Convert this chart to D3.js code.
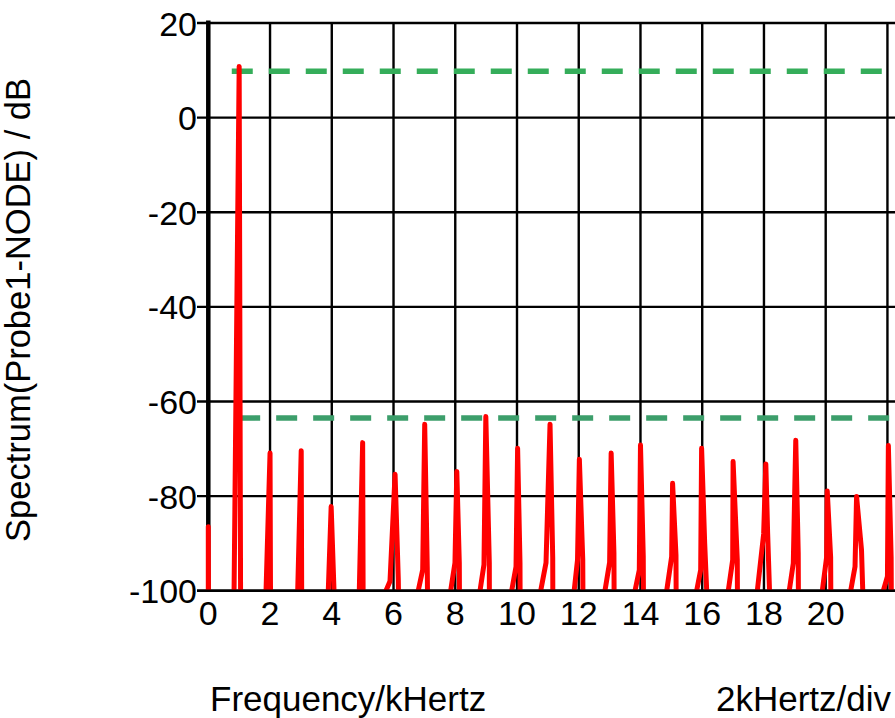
<!DOCTYPE html>
<html>
<head>
<meta charset="utf-8">
<script src="https://cdn.jsdelivr.net/npm/d3@7"></script>
<style>
  html, body { margin: 0; padding: 0; background: #fff; overflow: hidden; }
  svg { display: block; }
  text { font-family: "Liberation Sans", Arial, sans-serif; fill: #000; }
</style>
</head>
<body>
<svg id="chart" width="895" height="718"></svg>
<script>
// Harmonic spikes of the probe spectrum (frequency in kHz, level in dB)
const spikeKHz   = [0, 1.0, 2.0, 3.01, 3.98, 5.0, 6.05, 7.01, 8.05, 8.99, 10.02, 11.07, 12.02, 13.05, 14.0, 15.04, 15.98, 17.0, 18.06, 19.03, 20.05, 21.0, 22.03];
const peakDb     = [-86.5, 10.8, -70.9, -70.4, -82.2, -68.7, -75.4, -64.8, -74.8, -63.2, -69.9, -64.8, -72.2, -70.9, -69.2, -77.3, -69.9, -72.7, -73.2, -68.2, -78.9, -80.1, -69.3];
// where each spike leaves / returns to the -100 dB floor
const footLeftKHz  = [0, 0.835, 1.87, 2.896, 3.887, 4.891, 5.755, 6.80, 7.852, 8.802, 9.828, 10.768, 11.852, 12.85, 13.823, 14.85, 15.82, 16.845, 17.785, 18.82, 19.89, 20.81, 21.866];
const footRightKHz = [0.005, 1.045, 2.015, 3.025, 4.072, 5.015, 6.16, 7.10, 8.135, 9.105, 10.10, 11.16, 12.135, 13.145, 14.095, 15.155, 16.145, 17.14, 18.18, 19.115, 20.165, 21.2, 22.125];
// intermediate bins on either side of each peak (null where the flank is straight)
const shoulderLeftKHz  = [null, null, null, null, null, null, 5.886, 6.945, 7.99, 8.93, 9.968, 10.94, 11.96, 13.0, 13.962, 15.01, 15.95, 16.987, 17.99, 18.95, 20.03, 20.95, 22.0];
const shoulderLeftDb   = [null, null, null, null, null, null, -98, -95.6, -94.1, -94.5, -94.9, -94.1, -93.5, -94, -95.6, -92.8, -95.6, -93.5, -88, -94.2, -92.9, -94.9, -97];
const shoulderRightKHz = [null, null, null, null, null, null, 6.155, 7.093, 8.131, 9.103, 10.097, 11.157, 12.13, 13.14, 14.09, 15.15, 16.08, 17.136, 18.12, 19.11, 20.16, 21.16, 22.12];
const shoulderRightDb  = [null, null, null, null, null, null, -97.7, -95, -94.1, -94.2, -94.2, -93, -93.5, -92, -92.7, -92.5, -90, -93.5, -88, -92, -92.9, -91.4, -93];

// reference levels (dashed markers)
const markerLevels = [
  { db: 9.8,   fromKHz: 0.76, color: "#35ad5a" },
  { db: -63.5, fromKHz: 1.0,  color: "#3c9e6b" }
];

// axis ticks
const xTickValues = [0, 2, 4, 6, 8, 10, 12, 14, 16, 18, 20];
const xGridValues = [2, 4, 6, 8, 10, 12, 14, 16, 18, 20, 22];
const yTickValues = [20, 0, -20, -40, -60, -80, -100];

const yTitle = "Spectrum(Probe1-NODE) / dB";
const xTitle = "Frequency/kHertz";
const xScaleNote = "2kHertz/div";

const svg = d3.select("#chart");

const x = d3.scaleLinear().domain([0, 22.5]).range([208.3, 208.3 + 22.5 * 30.87]);
const y = d3.scaleLinear().domain([-100, 20]).range([590.7, 23]);
const xRight = 900;

// horizontal grid with short left ticks
svg.append("g")
  .selectAll("line")
  .data(yTickValues)
  .join("line")
  .attr("x1", 197).attr("x2", xRight)
  .attr("y1", d => y(d)).attr("y2", d => y(d))
  .attr("stroke", "#000").attr("stroke-width", 2.4);

// vertical grid
svg.append("g")
  .selectAll("line")
  .data(xGridValues)
  .join("line")
  .attr("x1", d => x(d)).attr("x2", d => x(d))
  .attr("y1", y(20)).attr("y2", y(-100))
  .attr("stroke", "#000").attr("stroke-width", 2.4);

// y axis spine
svg.append("line")
  .attr("x1", x(0)).attr("x2", x(0))
  .attr("y1", y(20) - 2.5).attr("y2", y(-100) + 1)
  .attr("stroke", "#000").attr("stroke-width", 4.5);

// y tick labels
svg.append("g")
  .selectAll("text")
  .data(yTickValues)
  .join("text")
  .attr("x", 197)
  .attr("y", d => y(d) + 12.5)
  .attr("text-anchor", "end")
  .attr("font-size", 34)
  .text(d => d);

// x tick labels
svg.append("g")
  .selectAll("text")
  .data(xTickValues)
  .join("text")
  .attr("x", d => x(d))
  .attr("y", 625)
  .attr("text-anchor", "middle")
  .attr("font-size", 34)
  .text(d => d);

// dashed reference levels
svg.append("g")
  .selectAll("line")
  .data(markerLevels)
  .join("line")
  .attr("x1", d => x(d.fromKHz)).attr("x2", xRight)
  .attr("y1", d => y(d.db)).attr("y2", d => y(d.db))
  .attr("stroke", d => d.color)
  .attr("stroke-width", 5.5)
  .attr("stroke-dasharray", "21 16");

// spectrum trace, clipped at the -100 dB floor
svg.append("clipPath").attr("id", "plotClip")
  .append("rect")
  .attr("x", x(0) - 4).attr("y", 0)
  .attr("width", xRight).attr("height", y(-100));

const spikes = spikeKHz.map((f, i) => {
  const pts = [[footLeftKHz[i], -100]];
  if (shoulderLeftKHz[i] !== null) pts.push([shoulderLeftKHz[i], shoulderLeftDb[i]]);
  pts.push([f, peakDb[i]]);
  if (shoulderRightKHz[i] !== null) pts.push([shoulderRightKHz[i], shoulderRightDb[i]]);
  pts.push([footRightKHz[i], -100]);
  return pts;
});

const line = d3.line().x(d => x(d[0])).y(d => y(d[1]));

svg.append("g")
  .attr("clip-path", "url(#plotClip)")
  .selectAll("path")
  .data(spikes)
  .join("path")
  .attr("d", line)
  .attr("fill", "none")
  .attr("stroke", "#ff0000")
  .attr("stroke-width", 5)
  .attr("stroke-linejoin", "round")
  .attr("stroke-linecap", "butt");

// floor line drawn over the trace feet
svg.append("line")
  .attr("x1", 197).attr("x2", xRight)
  .attr("y1", y(-100)).attr("y2", y(-100))
  .attr("stroke", "#000").attr("stroke-width", 2.4);

// axis titles
svg.append("text")
  .attr("transform", "translate(30,310) rotate(-90)")
  .attr("text-anchor", "middle")
  .attr("font-size", 34.5)
  .text(yTitle);

svg.append("text")
  .attr("x", 210).attr("y", 711)
  .attr("font-size", 35)
  .text(xTitle);

svg.append("text")
  .attr("x", 716).attr("y", 711)
  .attr("font-size", 35)
  .text(xScaleNote);
</script>
</body>
</html>
